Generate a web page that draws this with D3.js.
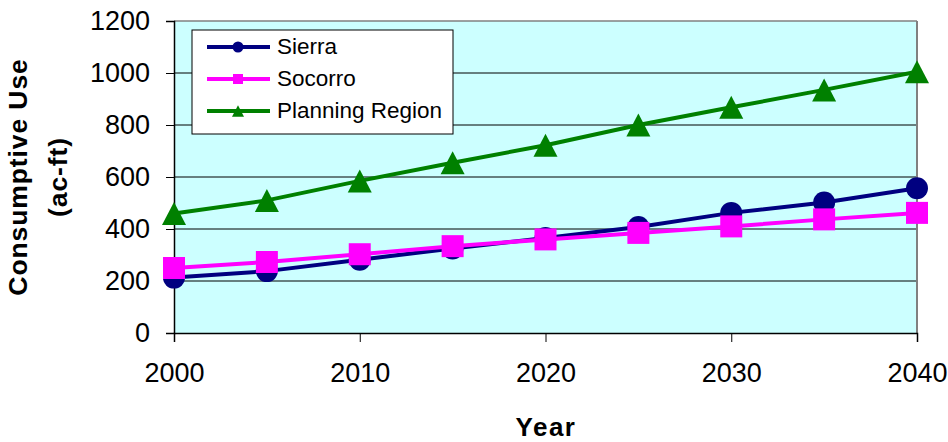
<!DOCTYPE html>
<html><head><meta charset="utf-8">
<script src="https://cdn.jsdelivr.net/npm/d3@7"></script>
<style>body{margin:0;background:#fff}svg{display:block;font-family:Arial,"Liberation Sans",sans-serif}</style>
</head><body><svg id="c" width="948" height="442"></svg>
<script>
const years = [2000, 2005, 2010, 2015, 2020, 2025, 2030, 2035, 2040];
const sierra = [213, 238, 282, 325, 365, 408, 462, 502, 557];
const socorro = [250, 273, 303, 334, 360, 385, 410, 437, 462];
const planning = [460, 510, 585, 655, 722, 800, 868, 935, 1005];
const yTicks = [0, 200, 400, 600, 800, 1000, 1200];
const xTicks = [2000, 2010, 2020, 2030, 2040];
const seriesNames = ["Sierra", "Socorro", "Planning Region"];
const colors = ["#000080", "#FF00FF", "#008000"];

const FONT = "Arial,'Liberation Sans',sans-serif";
const svg = d3.select("#c");
const L = 174, R = 917, T = 21, B = 333;
const x = d3.scaleLinear().domain([2000, 2040]).range([L, R]);
const y = d3.scaleLinear().domain([0, 1200]).range([B, T]);

svg.append("rect").attr("x", L).attr("y", T).attr("width", R - L).attr("height", B - T).attr("fill", "#CCFFFF");
svg.append("g").selectAll("line").data(yTicks.filter(d => d > 0 && d < 1200)).join("line")
  .attr("x1", L).attr("x2", R).attr("y1", d => y(d)).attr("y2", d => y(d))
  .attr("stroke", "#000").attr("stroke-width", 1);
svg.append("line").attr("x1", L).attr("x2", R).attr("y1", T).attr("y2", T).attr("stroke", "#808080").attr("stroke-width", 1.5);
svg.append("line").attr("x1", R).attr("x2", R).attr("y1", T).attr("y2", B).attr("stroke", "#808080").attr("stroke-width", 2);

const yAxis = d3.axisLeft(y).tickValues(yTicks).tickFormat(d3.format("d")).tickSize(8).tickPadding(16);
const gy = svg.append("g").attr("transform", `translate(${L},0)`).call(yAxis);
gy.selectAll("text").attr("font-size", 27).attr("font-family", FONT).attr("fill", "#000");
gy.selectAll(".tick line").attr("stroke", "#000");
gy.select(".domain").attr("stroke", "#000").attr("stroke-width", 1.5);
const xAxis = d3.axisBottom(x).tickValues(xTicks).tickFormat(d3.format("d")).tickSize(9).tickPadding(21);
const gx = svg.append("g").attr("transform", `translate(0,${B})`).call(xAxis);
gx.selectAll("text").attr("font-size", 27).attr("font-family", FONT).attr("fill", "#000");
gx.selectAll(".tick line").attr("stroke", "#000");
gx.select(".domain").attr("stroke", "#000").attr("stroke-width", 1.5);

const data = [sierra, socorro, planning];
const line = d3.line().x((d, i) => x(years[i])).y(d => y(d));
const triangle = s => `M0,${-s*0.48}L${s*0.5},${s*0.48}L${-s*0.5},${s*0.48}Z`;
const markerPath = (k, s) => k === 2 ? triangle(s) : d3.symbol().type(k === 0 ? d3.symbolCircle : d3.symbolSquare).size(k === 0 ? Math.PI * s * s / 4 : s * s)();
const mSize = [22, 22, 24];
[2, 0, 1].forEach(k => {
  svg.append("path").datum(data[k]).attr("d", line).attr("fill", "none")
    .attr("stroke", colors[k]).attr("stroke-width", 4);
  svg.append("g").selectAll("path").data(data[k]).join("path")
    .attr("transform", (d, i) => `translate(${x(years[i])},${y(d)})`)
    .attr("d", markerPath(k, mSize[k])).attr("fill", colors[k]);
});

const lg = svg.append("g");
lg.append("rect").attr("x", 192).attr("y", 30).attr("width", 261).attr("height", 104)
  .attr("fill", "#fff").attr("stroke", "#000").attr("stroke-width", 1);
seriesNames.forEach((n, k) => {
  const ly = 47 + k * 32;
  lg.append("line").attr("x1", 207).attr("x2", 270).attr("y1", ly).attr("y2", ly).attr("stroke", colors[k]).attr("stroke-width", 4);
  lg.append("path").attr("transform", `translate(238,${ly})`).attr("d", markerPath(k, [11, 10, 12][k])).attr("fill", colors[k]);
  lg.append("text").attr("x", 277).attr("y", ly + 6.5).attr("font-size", 22.5).attr("fill", "#000").text(n);
});

svg.append("text").attr("x", 546).attr("y", 436).attr("text-anchor", "middle")
  .attr("font-size", 26).attr("font-weight", "bold").attr("letter-spacing", 1.5).attr("fill", "#000").text("Year");
const yt = svg.append("text").attr("transform", `translate(27,177) rotate(-90)`)
  .attr("text-anchor", "middle").attr("font-size", 26.5).attr("font-weight", "bold").attr("letter-spacing", 0.9).attr("fill", "#000");
yt.append("tspan").attr("x", 0).attr("dy", 0).text("Consumptive Use");
yt.append("tspan").attr("x", 0).attr("dy", 40).text("(ac-ft)");
</script></body></html>
